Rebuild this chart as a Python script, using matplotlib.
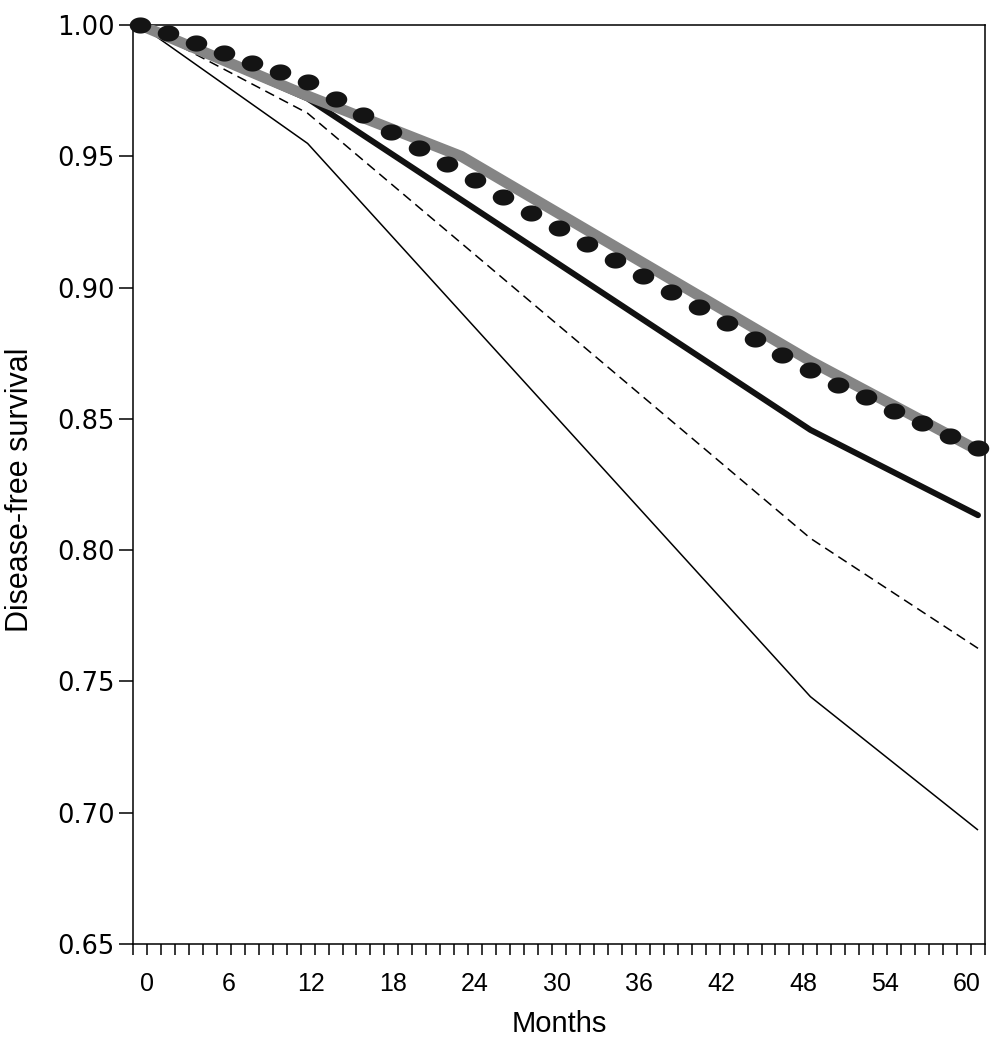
import numpy as np
import matplotlib
matplotlib.use("Agg")
import matplotlib.pyplot as plt
from matplotlib.path import Path
from matplotlib.ticker import FixedLocator

# ---- data ----
dot_months = [0, 2, 4, 6, 8, 10, 12, 14, 16, 18, 20, 22, 24, 26, 28, 30,
              32, 34, 36, 38, 40, 42, 44, 46, 48, 50, 52, 54, 56, 58, 60]
dot_surv = [1.000, 0.9968, 0.9930, 0.9892, 0.9856, 0.9820, 0.9784, 0.9718,
            0.9657, 0.9594, 0.9530, 0.9469, 0.9410, 0.9346, 0.9285, 0.9225,
            0.9165, 0.9105, 0.9045, 0.8985, 0.8925, 0.8865, 0.8805, 0.8745,
            0.8687, 0.8629, 0.8582, 0.8531, 0.8483, 0.8436, 0.8388]

gray_months = [0, 12, 23, 48, 60]
gray_surv = [1.000, 0.973, 0.950, 0.872, 0.838]

thick_months = [0, 12, 48, 60]
thick_surv = [1.000, 0.972, 0.8458, 0.8133]

dash_months = [0, 12, 48, 60]
dash_surv = [1.000, 0.9664, 0.8045, 0.7626]

thin_months = [0, 12, 48, 60]
thin_surv = [1.000, 0.9549, 0.7442, 0.6934]

xtick_labels = ["0", "6", "12", "18", "24", "30", "36", "42", "48", "54", "60"]
ytick_vals = [0.65, 0.70, 0.75, 0.80, 0.85, 0.90, 0.95, 1.00]

# ---- figure ----
fig = plt.figure(figsize=(9.94, 10.5), dpi=100)
ax = fig.add_axes([133/994, 1-944/1050, (985-133)/994, (944-25)/1050])

# elliptical marker
t = np.linspace(0, 2*np.pi, 60)
ell = Path(np.column_stack([np.cos(t), 0.75*np.sin(t)]), closed=True)

ax.plot(thin_months, thin_surv, color="black", lw=1.1, solid_capstyle="butt", zorder=2)
ax.plot(dash_months, dash_surv, color="black", lw=1.1, dashes=[6.5, 3.8], zorder=2)
ax.plot(thick_months, thick_surv, color="#111111", lw=4.3, solid_capstyle="round",
        solid_joinstyle="round", zorder=3)
ax.plot(gray_months, gray_surv, color="#858585", lw=7.8, solid_capstyle="butt",
        solid_joinstyle="round", zorder=4)
ax.plot(dot_months, dot_surv, linestyle="none", marker=ell, markersize=15.5,
        color="#141414", markeredgewidth=0, zorder=5, clip_on=False)

ax.set_xlim(-0.5, 60.5)
ax.set_ylim(0.65, 1.00)

# minor ticks every month
ax.xaxis.set_minor_locator(FixedLocator([-0.5 + k for k in range(62)]))
label_pos = [0.48 + 0.979 * m for m in range(0, 61, 6)]
ax.set_xticks(label_pos)
ax.set_xticklabels(xtick_labels, fontsize=18, family="Liberation Sans")
ax.tick_params(axis="x", which="major", length=0, pad=20)
ax.tick_params(axis="x", which="minor", length=8, width=1.1, direction="out")

ax.set_yticks(ytick_vals)
ax.set_yticklabels([f"{v:.2f}" for v in ytick_vals], fontsize=18.5, family="DejaVu Sans")
ax.tick_params(axis="y", which="major", length=10, width=1.1, direction="out", pad=3)

for s in ax.spines.values():
    s.set_linewidth(1.1)

fig.text(559/994, 1-1024/1050, "Months", ha="center", va="center",
         fontsize=21, family="Liberation Sans")
fig.text(20/994, 1-490/1050, "Disease-free survival", ha="center", va="center",
         rotation=90, fontsize=22, family="Liberation Sans")

fig.savefig("out.png", dpi=100)
